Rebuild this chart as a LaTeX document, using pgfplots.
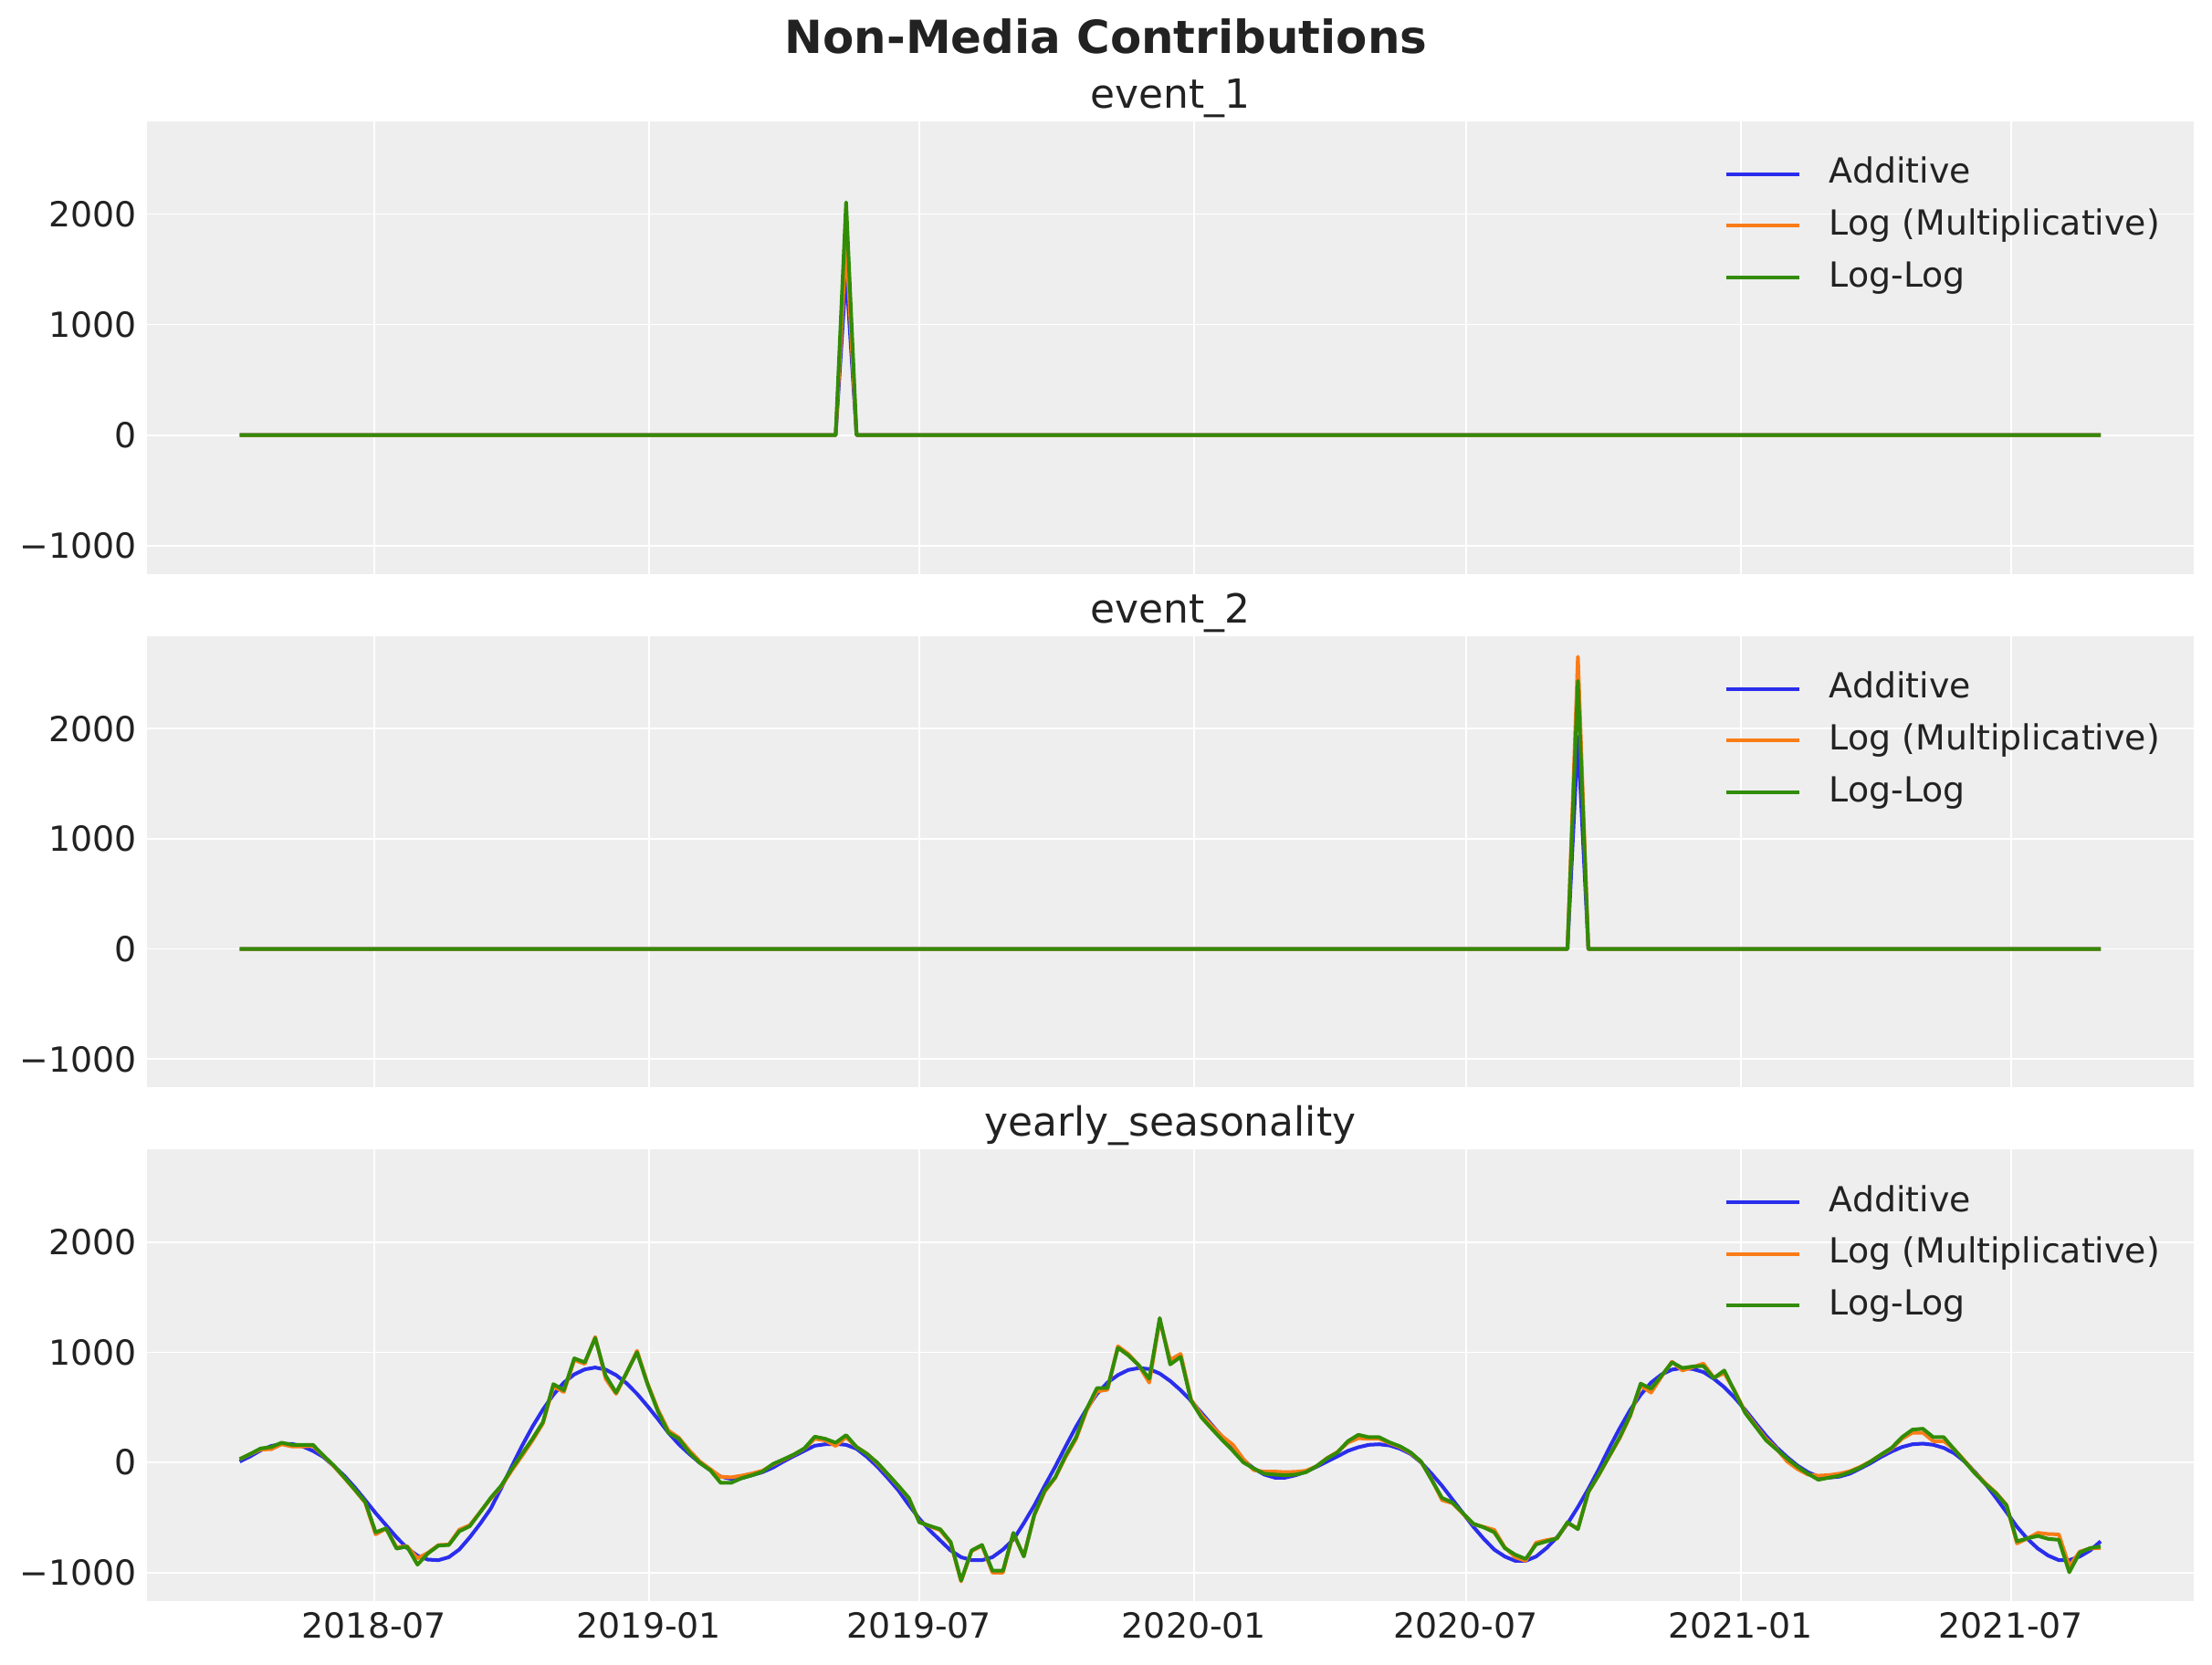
\documentclass[border=0pt]{standalone}
\usepackage{fontspec}
\setmainfont{DejaVu Sans}
\usepackage{pgfplots}
\usepackage{pgfplotstable}
\pgfplotsset{compat=1.18}
\definecolor{cA}{HTML}{2A2EEC}
\definecolor{cM}{HTML}{FA7C17}
\definecolor{cL}{HTML}{328C06}
\definecolor{bg}{HTML}{EEEEEE}
\definecolor{txt}{HTML}{222222}

\pgfplotstableread{
w B O G
0 8 30 30
1 55 75 77
2 110 118 127
3 149 120 140
4 168 165 179
5 168 145 160
6 146 145 160
7 105 150 160
8 50 60 63
9 -33 -35 -28
10 -121 -140 -135
11 -226 -250 -245
12 -342 -365 -358
13 -460 -653 -634
14 -570 -600 -598
15 -680 -770 -782
16 -777 -760 -763
17 -846 -870 -928
18 -882 -820 -826
19 -887 -750 -755
20 -860 -745 -749
21 -790 -610 -625
22 -680 -570 -579
23 -556 -450 -452
24 -420 -330 -322
25 -235 -220 -212
26 -40 -75 -61
27 150 60 77
28 325 200 215
29 480 355 366
30 615 690 711
31 725 640 656
32 800 930 945
33 845 895 909
34 862 1140 1129
35 843 760 788
36 793 623 634
37 719 810 815
38 623 1014 1000
39 512 720 711
40 394 480 463
41 270 290 270
42 165 225 215
43 77 110 91
44 -3 10 -3
45 -70 -60 -70
46 -129 -130 -185
47 -149 -135 -185
48 -143 -120 -143
49 -116 -100 -116
50 -88 -75 -83
51 -47 -20 -14
52 8 25 28
53 58 70 72
54 105 125 127
55 152 215 234
56 165 200 215
57 168 150 179
58 160 229 248
59 124 140 140
60 50 80 77
61 -39 -10 -3
62 -143 -110 -107
63 -253 -215 -212
64 -386 -325 -322
65 -510 -540 -543
66 -617 -580 -576
67 -708 -615 -606
68 -799 -730 -722
69 -860 -1080 -1072
70 -887 -805 -799
71 -887 -755 -749
72 -860 -1000 -983
73 -791 -1000 -983
74 -700 -645 -639
75 -551 -850 -854
76 -391 -480 -474
77 -212 -265 -253
78 -39 -140 -135
79 146 50 63
80 325 215 229
81 485 470 485
82 623 645 675
83 725 660 675
84 793 1055 1041
85 840 985 972
86 857 880 882
87 848 725 760
88 807 1290 1311
89 740 931 890
90 656 986 959
91 559 570 559
92 449 430 408
93 339 330 303
94 229 235 201
95 118 160 105
96 22 30 0
97 -55 -70 -55
98 -110 -83 -102
99 -138 -83 -110
100 -138 -88 -116
101 -116 -85 -110
102 -83 -75 -88
103 -39 -35 -33
104 8 40 36
105 55 95 91
106 105 180 193
107 138 220 251
108 160 215 229
109 165 215 229
110 154 175 182
111 124 140 146
112 77 85 91
113 0 5 8
114 -102 -150 -157
115 -212 -342 -322
116 -336 -370 -364
117 -460 -465 -460
118 -584 -560 -556
119 -694 -585 -590
120 -791 -612 -634
121 -854 -770 -777
122 -893 -860 -837
123 -893 -893 -876
124 -854 -728 -744
125 -777 -705 -716
126 -680 -689 -689
127 -556 -550 -543
128 -405 -600 -606
129 -240 -270 -267
130 -61 -115 -110
131 132 55 60
132 311 220 230
133 477 420 430
134 614 697 716
135 725 634 669
136 799 780 788
137 843 915 909
138 857 835 857
139 848 865 871
140 821 898 876
141 760 770 766
142 683 810 835
143 587 650 642
144 477 460 449
145 358 335 325
146 242 215 201
147 138 125 118
148 50 10 36
149 -28 -60 -39
150 -88 -110 -102
151 -129 -120 -157
152 -138 -115 -138
153 -129 -102 -121
154 -102 -80 -88
155 -55 -40 -47
156 -6 10 8
157 50 70 72
158 99 125 132
159 140 215 229
160 165 270 298
161 171 270 306
162 160 193 229
163 132 193 229
164 83 120 118
165 8 15 8
166 -88 -95 -102
167 -198 -190 -198
168 -322 -275 -281
169 -452 -385 -391
170 -584 -735 -716
171 -694 -690 -689
172 -782 -639 -667
173 -846 -650 -694
174 -887 -653 -702
175 -887 -942 -997
176 -854 -810 -818
177 -799 -780 -777
178 -716 -777 -763
}\seas

\pgfplotsset{
 panel/.style={
  scale only axis, width=1451pt, height=321pt,
  xmin=-8.9, xmax=186.9, ymin=-1258, ymax=2840,
  xtick={12.857,39.143,65,91.286,117.286,143.571,169.429},
  ytick={-1000,0,1000,2000},
  yticklabels={−1000,0,1000,2000},
  major tick length=0pt,
  axis line style={draw=none},
  axis background/.style={fill=bg},
  grid=major, major grid style={white, line width=1.1pt},
  tick label style={font=\fontsize{24.5}{29}\selectfont, text=txt, inner sep=0pt},
  yticklabel style={xshift=-7pt},
  xticklabel style={yshift=-8pt},
  legend style={at={(1,1)}, anchor=north east, xshift=-24pt, yshift=-26pt,
    draw=none, fill=none, inner sep=0pt, outer sep=0pt,
    font=\fontsize{24.5}{29}\selectfont, text=txt,
    nodes={inner sep=0pt, text height=18pt, text depth=5pt},
    row sep=13.6pt, column sep=20pt},
  legend cell align=left,
  legend image code/.code={\draw[##1, line width=2.6pt] (0pt,0pt) -- (52pt,0pt);},
 },
 ln/.style={line width=2.6pt, line join=round},
}

\begin{document}
\begin{tikzpicture}
\path[use as bounding box] (0,0) rectangle (1568pt,-1180pt);
\node[anchor=base, font=\bfseries\fontsize{32.3}{38}\selectfont, text=txt, inner sep=0pt] at (784pt,-37.6pt) {Non-Media Contributions};

\begin{axis}[panel, at={(104pt,-86pt)}, anchor=north west, xticklabels={,,,,,,,}]
\addplot[cA, ln] coordinates {(0,0) (57,0) (58,1480) (59,0) (178,0)};
\addlegendentry{Additive}
\addplot[cM, ln] coordinates {(0,0) (57,0) (58,1750) (59,0) (178,0)};
\addlegendentry{Log (Multiplicative)}
\addplot[cL, ln] coordinates {(0,0) (57,0) (58,2107) (59,0) (178,0)};
\addlegendentry{Log-Log}
\end{axis}
\node[anchor=base, font=\fontsize{28.4}{34}\selectfont, text=txt, inner sep=0pt] at (829.5pt,-76.6pt) {event\_1};

\begin{axis}[panel, height=320pt, at={(104pt,-451pt)}, anchor=north west, xticklabels={,,,,,,,}]
\addplot[cA, ln] coordinates {(0,0) (127,0) (128,1925) (129,0) (178,0)};
\addlegendentry{Additive}
\addplot[cM, ln] coordinates {(0,0) (127,0) (128,2654) (129,0) (178,0)};
\addlegendentry{Log (Multiplicative)}
\addplot[cL, ln] coordinates {(0,0) (127,0) (128,2434) (129,0) (178,0)};
\addlegendentry{Log-Log}
\end{axis}
\node[anchor=base, font=\fontsize{28.4}{34}\selectfont, text=txt, inner sep=0pt] at (829.5pt,-441.6pt) {event\_2};

\begin{axis}[panel, height=320pt, at={(104pt,-815pt)}, anchor=north west,
  xticklabels={2018-07,2019-01,2019-07,2020-01,2020-07,2021-01,2021-07}]
\addplot[cA, ln] table[x=w, y=B] {\seas};
\addlegendentry{Additive}
\addplot[cM, ln] table[x=w, y=O] {\seas};
\addlegendentry{Log (Multiplicative)}
\addplot[cL, ln] table[x=w, y=G] {\seas};
\addlegendentry{Log-Log}
\end{axis}
\node[anchor=base, font=\fontsize{28.4}{34}\selectfont, text=txt, inner sep=0pt] at (829.5pt,-805.6pt) {yearly\_seasonality};
\end{tikzpicture}
\end{document}
